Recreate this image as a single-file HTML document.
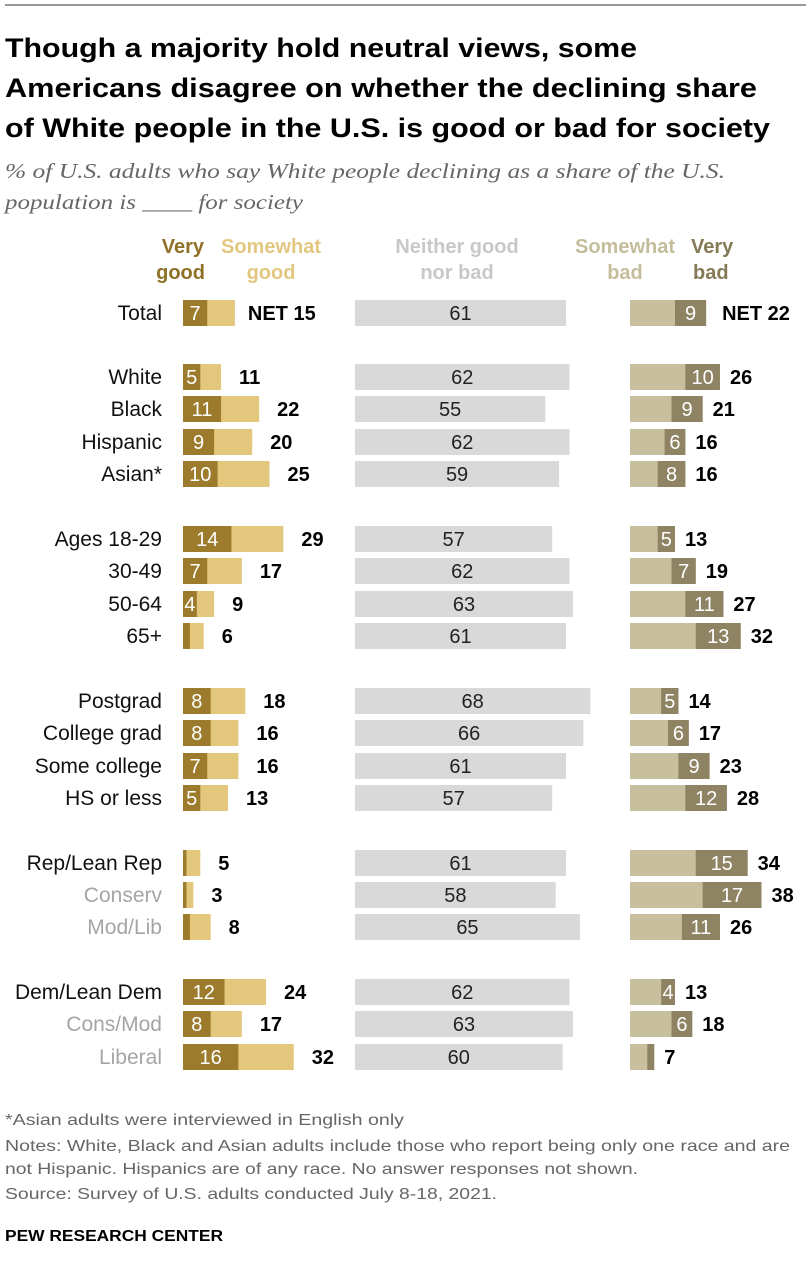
<!DOCTYPE html>
<html><head><meta charset="utf-8"><style>
body{margin:0;background:#fff;}
svg{display:block;font-family:"Liberation Sans",sans-serif;}
</style></head><body>
<svg id="chart" width="806" height="1280" viewBox="0 0 806 1280">
<line x1="5" y1="5" x2="806" y2="5" stroke="#333" stroke-width="1"/>
<g font-weight="bold" font-size="27" fill="#000">
<text x="5" y="57" textLength="632" lengthAdjust="spacingAndGlyphs">Though a majority hold neutral views, some</text>
<text x="5" y="97" textLength="752" lengthAdjust="spacingAndGlyphs">Americans disagree on whether the declining share</text>
<text x="5" y="137" textLength="765" lengthAdjust="spacingAndGlyphs">of White people in the U.S. is good or bad for society</text>
</g>
<g font-family="Liberation Serif,serif" font-style="italic" font-size="21" fill="#666">
<text x="5" y="178" textLength="720" lengthAdjust="spacingAndGlyphs">% of U.S. adults who say White people declining as a share of the U.S.</text>
<text x="5" y="209" textLength="298" lengthAdjust="spacingAndGlyphs">population is ____ for society</text>
</g>
<g font-weight="bold" font-size="20">
<text x="204" y="253" text-anchor="end" fill="#8f7126"><tspan x="204">Very</tspan><tspan x="205" dy="26">good</tspan></text>
<text x="271" y="253" text-anchor="middle" fill="#e1c77f"><tspan x="271">Somewhat</tspan><tspan x="271" dy="26">good</tspan></text>
<text x="457" y="253" text-anchor="middle" fill="#c8c8c8"><tspan x="457">Neither good</tspan><tspan x="457" dy="26">nor bad</tspan></text>
<text x="625" y="253" text-anchor="middle" fill="#c4bd9c"><tspan x="625">Somewhat</tspan><tspan x="625" dy="26">bad</tspan></text>
<text x="691" y="253" fill="#857a55"><tspan x="691">Very</tspan><tspan x="693" dy="26">bad</tspan></text>
</g>
<g id="rows"></g>
<g font-size="16" fill="#666">
<text x="5" y="1125" textLength="399" lengthAdjust="spacingAndGlyphs">*Asian adults were interviewed in English only</text>
<text x="5" y="1151" textLength="785" lengthAdjust="spacingAndGlyphs">Notes: White, Black and Asian adults include those who report being only one race and are</text>
<text x="5" y="1174" textLength="633" lengthAdjust="spacingAndGlyphs">not Hispanic. Hispanics are of any race. No answer responses not shown.</text>
<text x="5" y="1199" textLength="492" lengthAdjust="spacingAndGlyphs">Source: Survey of U.S. adults conducted July 8-18, 2021.</text>
</g>
<text x="5" y="1241" font-size="16" font-weight="bold" fill="#000" textLength="218" lengthAdjust="spacingAndGlyphs">PEW RESEARCH CENTER</text>
</svg>
<script>
const categories=["Total","White","Black","Hispanic","Asian*","Ages 18-29","30-49","50-64","65+","Postgrad","College grad","Some college","HS or less","Rep/Lean Rep","Conserv","Mod/Lib","Dem/Lean Dem","Cons/Mod","Liberal"];
const veryGood=[7,5,11,9,10,14,7,4,2,8,8,7,5,1,1,2,12,8,16];
const netGood=[15,11,22,20,25,29,17,9,6,18,16,16,13,5,3,8,24,17,32];
const neither=[61,62,55,62,59,57,62,63,61,68,66,61,57,61,58,65,62,63,60];
const netBad=[22,26,21,16,16,13,19,27,32,14,17,23,28,34,38,26,13,18,7];
const veryBad=[9,10,9,6,8,5,7,11,13,5,6,9,12,15,17,11,4,6,2];
const rowY=[313,377,409,442,474,539,571,604,636,701,733,766,798,863,895,927,992,1024,1057];
const grayLabels=["Conserv","Mod/Lib","Cons/Mod","Liberal"];
const U=3.46, GX=183, NX=355, BX=630, H=26;
const NS="http://www.w3.org/2000/svg";
const root=document.getElementById('rows');
function mk(tag,attrs,txt){const e=document.createElementNS(NS,tag);for(const k in attrs)e.setAttribute(k,attrs[k]);if(txt!==undefined)e.textContent=txt;return e;}
categories.forEach((c,i)=>{
  const y=rowY[i], top=y-H/2;
  const g=mk('g',{});
  
  
  const lab=mk('text',{x:162,y:y+7,'text-anchor':'end','font-size':21,fill:grayLabels.includes(c)?'#a5a5a5':'#111'},c);
  
  
  g.appendChild(lab);
  const sg=mk('rect',{x:GX,y:top,width:netGood[i]*U,height:H,fill:'#e3c77d'});
  
  
  g.appendChild(sg);
  const vg=mk('rect',{x:GX,y:top,width:veryGood[i]*U,height:H,fill:'#9c7b2c'});
  
  
  g.appendChild(vg);
  if(veryGood[i]>=4){
    const t=mk('text',{x:GX+veryGood[i]*U/2,y:y+7,'text-anchor':'middle','font-size':20,fill:'#fff'},veryGood[i]);
    
    
    g.appendChild(t);
  }
  const ng=mk('text',{x:GX+netGood[i]*U+(i===0?13:18),y:y+7,'font-size':20,'font-weight':'bold',fill:'#000'},(i===0?'NET ':'')+netGood[i]);
  
  
  g.appendChild(ng);
  const nb=mk('rect',{x:NX,y:top,width:neither[i]*U,height:H,fill:'#d9d9d9'});
  
  
  g.appendChild(nb);
  const nt=mk('text',{x:NX+neither[i]*U/2,y:y+7,'text-anchor':'middle','font-size':20,fill:'#222'},neither[i]);
  
  
  g.appendChild(nt);
  const sb=mk('rect',{x:BX,y:top,width:netBad[i]*U,height:H,fill:'#c7bf9d'});
  
  
  g.appendChild(sb);
  const vbx=BX+(netBad[i]-veryBad[i])*U;
  const vb=mk('rect',{x:vbx,y:top,width:veryBad[i]*U,height:H,fill:'#8e8362'});
  
  
  g.appendChild(vb);
  if(veryBad[i]>=4){
    const t=mk('text',{x:vbx+veryBad[i]*U/2,y:y+7,'text-anchor':'middle','font-size':20,fill:'#fff'},veryBad[i]);
    
    
    g.appendChild(t);
  }
  const bt=mk('text',{x:BX+netBad[i]*U+(i===0?16:10),y:y+7,'font-size':20,'font-weight':'bold',fill:'#000'},(i===0?'NET ':'')+netBad[i]);
  
  
  g.appendChild(bt);
  root.appendChild(g);
});
</script>
</body></html>
